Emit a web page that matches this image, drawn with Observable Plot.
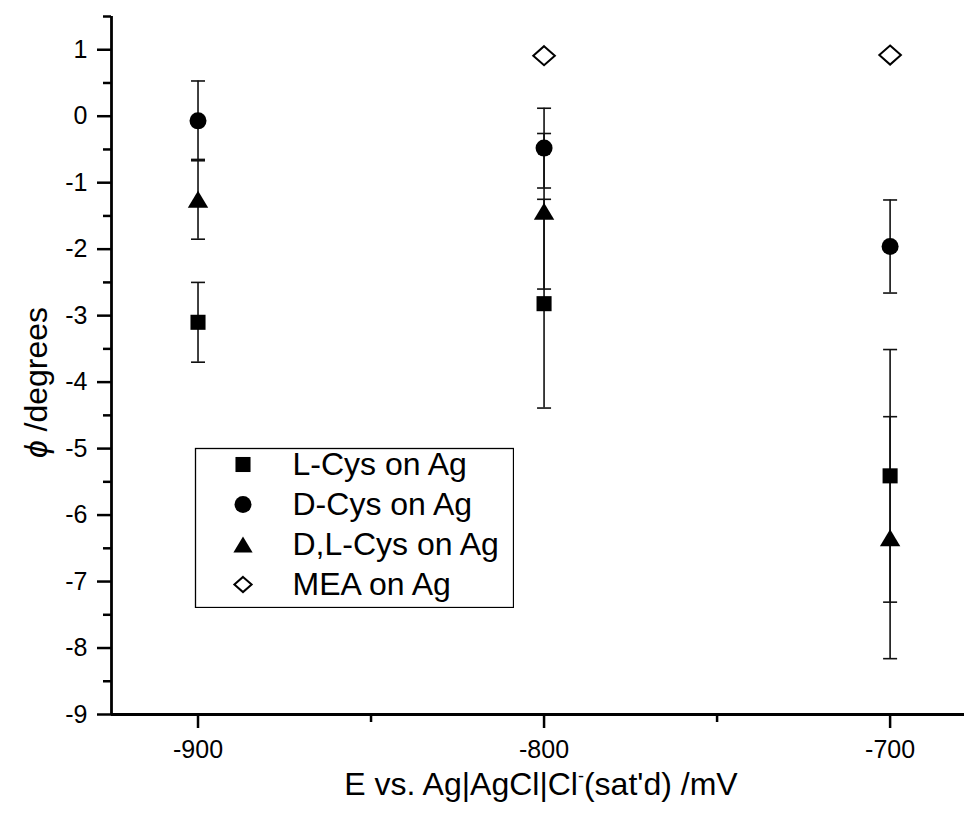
<!DOCTYPE html>
<html>
<head>
<meta charset="utf-8">
<script src="https://cdn.jsdelivr.net/npm/d3@7"></script>
<script src="https://cdn.jsdelivr.net/npm/@observablehq/plot@0.6"></script>
<style>
  html, body { margin: 0; padding: 0; background: #fff; }
  #wrap { position: relative; width: 964px; height: 826px; }
  #legend { position: absolute; left: 194px; top: 447px; }
</style>
</head>
<body>
<div id="wrap"><div id="legend"></div></div>
<script>
// ---- data ----
const potentials = [-900, -800, -700];
const seriesNames = ["L-Cys on Ag", "D-Cys on Ag", "D,L-Cys on Ag", "MEA on Ag"];
const lcysPhi  = [-3.10, -2.82, -5.41];
const lcysErr  = [0.60, 1.57, 1.90];
const dcysPhi  = [-0.07, -0.48, -1.96];
const dcysErr  = [0.60, 0.60, 0.70];
const dlcysPhi = [-1.25, -1.43, -6.34];
const dlcysErr = [0.60, 1.17, 1.82];
const meaPhi   = [null, 0.91, 0.92];
const yTicks = [-9, -8, -7, -6, -5, -4, -3, -2, -1, 0, 1];
const yMinorTicks = [-8.5, -7.5, -6.5, -5.5, -4.5, -3.5, -2.5, -1.5, -0.5, 0.5, 1.5];
const xTicks = [-900, -800, -700];
const xMinorTicks = [-850, -750];
const xTitle = "E vs. Ag|AgCl|Cl-(sat'd) /mV";
const yTitle = "\u03D5 /degrees";

// ---- tables ----
function rows(name, phi, err) {
  return potentials.map((E, i) => ({series: name, E, phi: phi[i], err: err ? err[i] : null}))
    .filter(d => d.phi != null);
}
const lcys = rows(seriesNames[0], lcysPhi, lcysErr);
const dcys = rows(seriesNames[1], dcysPhi, dcysErr);
const dlcys = rows(seriesNames[2], dlcysPhi, dlcysErr);
const mea = rows(seriesNames[3], meaPhi, null);
const withErr = [...lcys, ...dcys, ...dlcys];

// ---- symbols ----
const triSym = {draw(c, size) { const r = Math.sqrt(size / Math.PI); c.moveTo(0, -r); c.lineTo(1.2 * r, r); c.lineTo(-1.2 * r, r); c.closePath(); }};
const diaSym = {draw(c, size) { const r = Math.sqrt(size / Math.PI); c.moveTo(0, -1.12 * r); c.lineTo(1.27 * r, 0); c.lineTo(0, 1.12 * r); c.lineTo(-1.27 * r, 0); c.closePath(); }};
const capSym = {draw(c, size) { c.moveTo(-7, 0); c.lineTo(7, 0); }};

const font = "'Liberation Sans', Arial, Helvetica, sans-serif";

const chart = Plot.plot({
  width: 964,
  height: 826,
  marginLeft: 111,
  marginRight: 0,
  marginTop: 16,
  marginBottom: 112,
  style: {fontFamily: font, fontSize: "25px", color: "black", background: "white"},
  x: {domain: [-925, -678.5], axis: null},
  y: {domain: [-9, 1.5], axis: null},
  marks: [
    Plot.axisY({ticks: yTicks, tickSize: 14, tickPadding: 10, strokeWidth: 2.5, fontSize: 25, tickFormat: d => String(d), label: null}),
    Plot.axisY({ticks: yMinorTicks, tickSize: 8, strokeWidth: 2.5, tickFormat: () => "", label: null}),
    Plot.axisX({ticks: xTicks, tickSize: 14, tickPadding: 12, strokeWidth: 2.5, fontSize: 25, tickFormat: d => String(d), label: null}),
    Plot.axisX({ticks: xMinorTicks, tickSize: 8, strokeWidth: 2.5, tickFormat: () => "", label: null}),
    Plot.ruleX([-925], {stroke: "black", strokeWidth: 2.8}),
    Plot.ruleY([-9], {stroke: "black", strokeWidth: 2.8}),
    // error bars
    Plot.ruleX(withErr, {x: "E", y1: d => d.phi - d.err, y2: d => d.phi + d.err, stroke: "#111", strokeWidth: 1.6}),
    Plot.dot(withErr, {x: "E", y: d => d.phi - d.err, symbol: capSym, fill: "none", stroke: "#111", strokeWidth: 1.6}),
    Plot.dot(withErr, {x: "E", y: d => d.phi + d.err, symbol: capSym, fill: "none", stroke: "#111", strokeWidth: 1.6}),
    // points
    Plot.dot(lcys, {x: "E", y: "phi", symbol: "square", r: 8.5, fill: "black"}),
    Plot.dot(dcys, {x: "E", y: "phi", symbol: "circle", r: 8.5, fill: "black"}),
    Plot.dot(dlcys, {x: "E", y: "phi", symbol: triSym, r: 8.5, fill: "black"}),
    Plot.dot(mea, {x: "E", y: "phi", symbol: diaSym, r: 8.5, fill: "white", stroke: "black", strokeWidth: 2}),
    // titles
    Plot.text([xTitle], {text: d => d, frameAnchor: "bottom", textAnchor: "middle", lineAnchor: "middle", dx: 3, dy: 70, fontSize: 32, fill: "black"}),
    Plot.text([yTitle], {text: d => d, frameAnchor: "left", textAnchor: "middle", lineAnchor: "middle", dx: -75, dy: 17, rotate: -90, fontSize: 32, fill: "black"})
  ]
});
document.getElementById("wrap").insertBefore(chart, document.getElementById("legend"));

const svg = d3.select(chart);
// tick label size (numeric labels)
svg.selectAll("text")
  .filter(function() { return /^-?\d+$/.test(this.textContent.trim()); })
  .attr("font-size", 25)
  .style("font-size", "25px");
svg.selectAll("g").filter(function() {
  const a = this.getAttribute("aria-label") || "";
  return a.indexOf("tick label") >= 0;
}).attr("font-size", 25).style("font-size", "25px");
// superscript minus and italic phi
svg.selectAll("text").filter(function() { return this.textContent === xTitle; }).each(function() {
  const t = d3.select(this);
  t.text(null);
  t.append("tspan").text("E vs. Ag|AgCl|Cl");
  t.append("tspan").attr("dy", "-13px").style("font-size", "18px").text("-");
  t.append("tspan").attr("dy", "13px").text("(sat'd) /mV");
});
svg.selectAll("text").filter(function() { return this.textContent === yTitle; }).each(function() {
  const t = d3.select(this);
  t.text(null);
  t.append("tspan").attr("font-style", "italic").text("\u03D5");
  t.append("tspan").text(" /degrees");
});

// ---- legend ----
const legendSymbols = [
  {sym: "square", r: 8.5, fill: "black", stroke: "none"},
  {sym: "circle", r: 8.5, fill: "black", stroke: "none"},
  {sym: triSym, r: 8, fill: "black", stroke: "none"},
  {sym: diaSym, r: 6.8, fill: "white", stroke: "black"}
];
const legend = Plot.plot({
  width: 320,
  height: 161,
  margin: 1,
  style: {fontFamily: font, fontSize: "32px", color: "black", background: "white"},
  x: {axis: null},
  y: {type: "point", domain: seriesNames, range: [16.5, 136.7], padding: 0, axis: null},
  marks: [
    Plot.frame({stroke: "black", strokeWidth: 1.3}),
    ...seriesNames.map((name, i) => Plot.dot([name], {
      y: d => d, frameAnchor: "left", dx: 47.5,
      symbol: legendSymbols[i].sym, r: legendSymbols[i].r,
      fill: legendSymbols[i].fill, stroke: legendSymbols[i].stroke, strokeWidth: 2
    })),
    Plot.text(seriesNames, {y: d => d, text: d => d, frameAnchor: "left", dx: 97, textAnchor: "start", lineAnchor: "middle", fontSize: 32, fill: "black"})
  ]
});
document.getElementById("legend").appendChild(legend);
</script>
</body>
</html>
